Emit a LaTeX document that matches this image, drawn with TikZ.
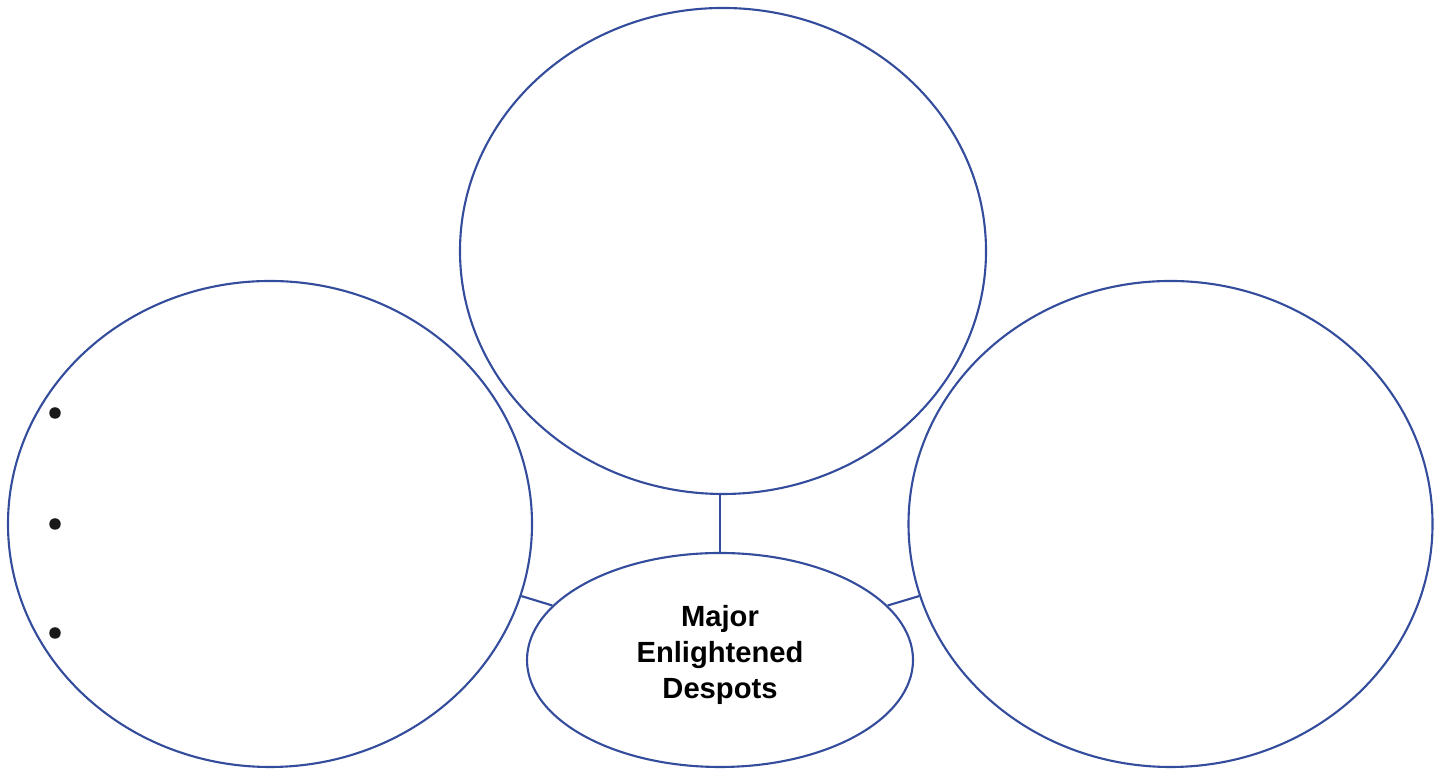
\documentclass[tikz,border=0pt]{standalone}
\usepackage{fontspec}
\setmainfont{Liberation Sans}
\usepackage{tikz}
\usetikzlibrary{shapes.geometric}
\definecolor{ringblue}{RGB}{52,76,156}

\begin{document}
\begin{tikzpicture}
    \useasboundingbox (0,0) rectangle (14.44,7.69);
    \tikzset{ring/.style={draw=ringblue,line width=0.6pt,ellipse,inner sep=0pt}}
    \node[ring,minimum width=5.26cm,minimum height=4.86cm] (top) at (7.23,5.18) {};
    \node[ring,minimum width=5.24cm,minimum height=4.86cm] (left) at (2.70,2.45) {};
    \node[ring,minimum width=5.24cm,minimum height=4.86cm] (right) at (11.705,2.45) {};
    \node[ring,minimum width=3.86cm,minimum height=2.14cm] (ctr) at (7.20,1.09) {};
    \node[align=center,font=\bfseries\fontsize{8.3}{10.2}\selectfont] (title) at (7.20,1.14) {Major\\Enlightened\\Despots};
    \draw[ringblue,line width=0.6pt] (ctr.north) -- (ctr.north |- top.south);
    \draw[ringblue,line width=0.6pt] (left.-16) -- (ctr.162);
    \draw[ringblue,line width=0.6pt] (ctr.18.5) -- (right.196);
    \foreach \y [count=\i] in {3.56,2.45,1.36}
      \node[circle,fill=black!90,inner sep=0pt,minimum size=0.115cm] (b\i) at (0.55,\y) {};
  \end{tikzpicture}
\end{document}
